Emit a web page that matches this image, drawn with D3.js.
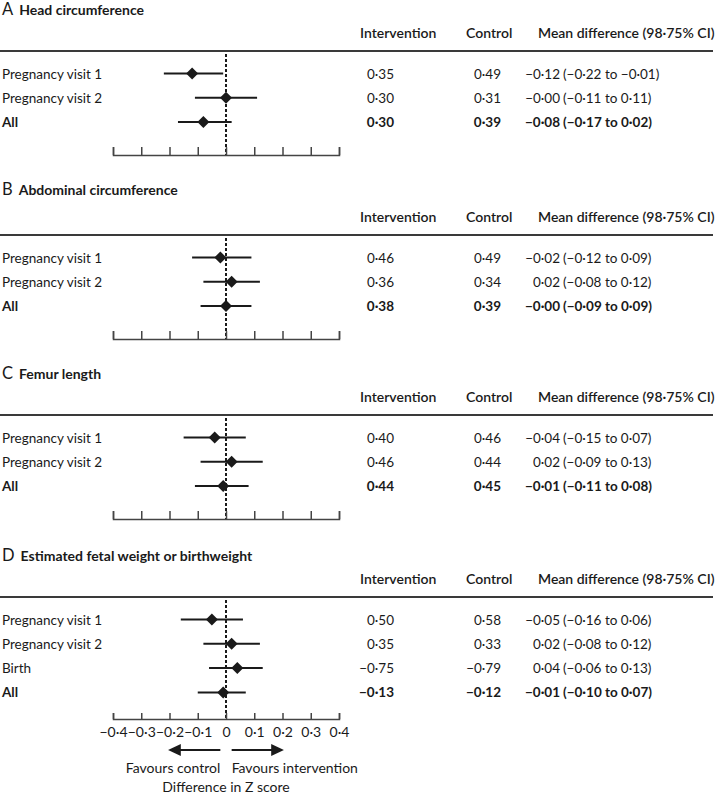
<!DOCTYPE html>
<html><head><meta charset="utf-8">
<script src="https://cdn.jsdelivr.net/npm/d3@7"></script>
<style>
body{margin:0;background:#fff;}
svg{display:block;font-family:Lato,"Open Sans",sans-serif;}
</style></head>
<body><svg id="c" width="715" height="796"></svg>
<script>
// ---- data ----
const panelLetters = ["A", "B", "C", "D"];
const panelTitles = ["Head circumference", "Abdominal circumference", "Femur length", "Estimated fetal weight or birthweight"];
const rowLabelsA = ["Pregnancy visit 1", "Pregnancy visit 2", "All"];
const rowLabelsB = ["Pregnancy visit 1", "Pregnancy visit 2", "All"];
const rowLabelsC = ["Pregnancy visit 1", "Pregnancy visit 2", "All"];
const rowLabelsD = ["Pregnancy visit 1", "Pregnancy visit 2", "Birth", "All"];
const interventionA = [0.35, 0.30, 0.30];
const controlA = [0.49, 0.31, 0.39];
const meanDiffA = [-0.12, -0.00, -0.08];
const lowerA = [-0.22, -0.11, -0.17];
const upperA = [-0.01, 0.11, 0.02];
const interventionB = [0.46, 0.36, 0.38];
const controlB = [0.49, 0.34, 0.39];
const meanDiffB = [-0.02, 0.02, -0.00];
const lowerB = [-0.12, -0.08, -0.09];
const upperB = [0.09, 0.12, 0.09];
const interventionC = [0.40, 0.46, 0.44];
const controlC = [0.46, 0.44, 0.45];
const meanDiffC = [-0.04, 0.02, -0.01];
const lowerC = [-0.15, -0.09, -0.11];
const upperC = [0.07, 0.13, 0.08];
const interventionD = [0.50, 0.35, -0.75, -0.13];
const controlD = [0.58, 0.33, -0.79, -0.12];
const meanDiffD = [-0.05, 0.02, 0.04, -0.01];
const lowerD = [-0.16, -0.08, -0.06, -0.10];
const upperD = [0.06, 0.12, 0.13, 0.07];
const xTicks = [-0.4, -0.3, -0.2, -0.1, 0, 0.1, 0.2, 0.3, 0.4];
const xTickLabels = ["−0·4", "−0·3", "−0·2", "−0·1", "0", "0·1", "0·2", "0·3", "0·4"];
const columnHeaders = ["Intervention", "Control", "Mean difference (98·75% CI)"];
const arrowLabels = ["Favours control", "Favours intervention"];
const axisTitle = "Difference in Z score";

// ---- build panels ----
const panels = [
  {labels: rowLabelsA, iv: interventionA, ct: controlA, md: meanDiffA, lo: lowerA, hi: upperA},
  {labels: rowLabelsB, iv: interventionB, ct: controlB, md: meanDiffB, lo: lowerB, hi: upperB},
  {labels: rowLabelsC, iv: interventionC, ct: controlC, md: meanDiffC, lo: lowerC, hi: upperC},
  {labels: rowLabelsD, iv: interventionD, ct: controlD, md: meanDiffD, lo: lowerD, hi: upperD}
];
// layout
const ruleY = [51, 235, 415, 597];
const titleY = [15, 195, 379, 561];
const rowStep = 24.3;

const fmt = v => ((v < 0 || Object.is(v, -0)) ? "−" : "") + Math.abs(v).toFixed(2).replace(".", "·");

const svg = d3.select("#c");
const x = d3.scaleLinear().domain([-0.4, 0.4]).range([113, 339]);
const ink = "#1a1a1a";

panels.forEach((p, pi) => {
  const g = svg.append("g");
  const ry = ruleY[pi];
  const n = p.labels.length;
  const y = i => ry + 22.5 + rowStep * i;
  const isD = pi === 3;
  const axisY = isD ? 719 : y(n - 1) + 33;

  // title
  const t = g.append("text").attr("x", 2).attr("y", titleY[pi]).attr("fill", ink);
  t.append("tspan").attr("font-size", 16.5).text(panelLetters[pi]);
  t.append("tspan").attr("dx", 6).attr("font-size", 14).attr("font-weight", 700).text(panelTitles[pi]);

  // column headers
  const hy = ry - 13;
  const hs = 14;
  g.append("text").attr("x", 360).attr("y", hy).attr("font-size", hs).attr("font-weight", 600).attr("fill", ink).text(columnHeaders[0]);
  g.append("text").attr("x", 466).attr("y", hy).attr("font-size", hs).attr("font-weight", 600).attr("fill", ink).text(columnHeaders[1]);
  g.append("text").attr("x", 538).attr("y", hy).attr("font-size", hs).attr("font-weight", 600).attr("fill", ink).text(columnHeaders[2]);

  // rule
  g.append("line").attr("x1", 0).attr("x2", 713).attr("y1", ry).attr("y2", ry)
    .attr("stroke", "#3a3a3a").attr("stroke-width", 2);

  // dashed zero line
  g.append("line").attr("x1", x(0)).attr("x2", x(0)).attr("y1", ry + 3).attr("y2", axisY)
    .attr("stroke", ink).attr("stroke-width", 2).attr("stroke-dasharray", "3,2");

  // axis
  const axis = d3.axisBottom(x).tickValues(xTicks)
    .tickSizeInner(isD ? -6 : -8).tickSizeOuter(isD ? -6 : -8).tickPadding(isD ? 8 : 3)
    .tickFormat((d, i) => isD ? xTickLabels[i] : "");
  const ag = g.append("g").attr("transform", `translate(0,${axisY})`).call(axis);
  ag.select(".domain").attr("stroke", "#444").attr("stroke-width", 1.5);
  ag.selectAll(".tick line").attr("stroke", "#444").attr("stroke-width", 1.5);
  ag.selectAll(".tick text").attr("font-size", 14).attr("fill", ink)
    .attr("font-family", "Lato, sans-serif");

  // rows
  p.labels.forEach((lab, i) => {
    const cy = y(i);
    const bold = lab === "All";
    const fw = bold ? 700 : 400;
    const by = cy + 5;
    g.append("text").attr("x", 2).attr("y", by).attr("font-size", 13.5).attr("font-weight", fw).attr("fill", ink).text(lab);
    g.append("text").attr("x", 394).attr("y", by).attr("text-anchor", "end").attr("font-size", 13.5).attr("font-weight", fw).attr("fill", ink).text(fmt(p.iv[i]));
    g.append("text").attr("x", 501).attr("y", by).attr("text-anchor", "end").attr("font-size", 13.5).attr("font-weight", fw).attr("fill", ink).text(fmt(p.ct[i]));
    g.append("text").attr("x", 560).attr("y", by).attr("text-anchor", "end").attr("font-size", 13.5).attr("font-weight", fw).attr("fill", ink).text(fmt(p.md[i]));
    g.append("text").attr("x", 563).attr("y", by).attr("font-size", 13.5).attr("font-weight", fw).attr("fill", ink)
      .text("(" + fmt(p.lo[i]) + " to " + fmt(p.hi[i]) + ")");

    // CI line
    g.append("line").attr("x1", x(p.lo[i])).attr("x2", x(p.hi[i])).attr("y1", cy).attr("y2", cy)
      .attr("stroke", ink).attr("stroke-width", 2);
    // diamond
    const cx = x(p.md[i]);
    g.append("path").attr("d", `M${cx - 6},${cy}L${cx},${cy - 6}L${cx + 6},${cy}L${cx},${cy + 6}Z`)
      .attr("fill", ink);
  });

  if (isD) {
    // arrows
    const ay = 750;
    const ar = g.append("g").attr("fill", ink).attr("stroke", ink);
    ar.append("line").attr("x1", x(-0.02)).attr("x2", x(-0.17)).attr("y1", ay).attr("y2", ay).attr("stroke-width", 2);
    ar.append("path").attr("d", `M${x(-0.205)},${ay}L${x(-0.16)},${ay - 6}L${x(-0.16)},${ay + 6}Z`).attr("stroke", "none");
    ar.append("line").attr("x1", x(0.02)).attr("x2", x(0.17)).attr("y1", ay).attr("y2", ay).attr("stroke-width", 2);
    ar.append("path").attr("d", `M${x(0.205)},${ay}L${x(0.16)},${ay - 6}L${x(0.16)},${ay + 6}Z`).attr("stroke", "none");
    g.append("text").attr("x", x(-0.02)).attr("y", 773).attr("text-anchor", "end").attr("font-size", 14).attr("fill", ink).text(arrowLabels[0]);
    g.append("text").attr("x", x(0.02)).attr("y", 773).attr("font-size", 14).attr("fill", ink).text(arrowLabels[1]);
    g.append("text").attr("x", x(0)).attr("y", 792).attr("text-anchor", "middle").attr("font-size", 14).attr("fill", ink).text(axisTitle);
  }
});
</script></body></html>
